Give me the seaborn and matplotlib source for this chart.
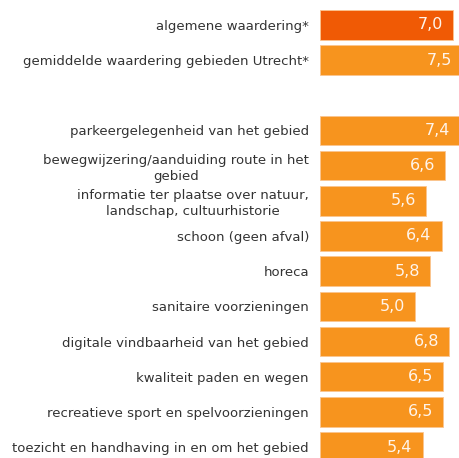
import matplotlib
matplotlib.use("Agg")
import matplotlib.pyplot as plt
import seaborn as sns
import pandas as pd
import numpy as np

categories = [
    "algemene waardering*",
    "gemiddelde waardering gebieden Utrecht*",
    " ",
    "parkeergelegenheid van het gebied",
    "bewegwijzering/aanduiding route in het\ngebied",
    "informatie ter plaatse over natuur,\nlandschap, cultuurhistorie",
    "schoon (geen afval)",
    "horeca",
    "sanitaire voorzieningen",
    "digitale vindbaarheid van het gebied",
    "kwaliteit paden en wegen",
    "recreatieve sport en spelvoorzieningen",
    "toezicht en handhaving in en om het gebied",
]
values = [7.0, 7.5, np.nan, 7.4, 6.6, 5.6, 6.4, 5.8, 5.0, 6.8, 6.5, 6.5, 5.4]
groups = ["algemeen", "overig", "overig", "overig", "overig", "overig", "overig",
          "overig", "overig", "overig", "overig", "overig", "overig"]

palette = {"algemeen": "#F05A05", "overig": "#F7941E"}

df = pd.DataFrame({"cat": categories, "val": values, "grp": groups})

sns.set_theme(style="white")
plt.rcParams["font.family"] = ["DejaVu Sans"]

W, H = 460, 458
fig = plt.figure(figsize=(W / 100, H / 100), dpi=100)
left_px = 320
ax = fig.add_axes([left_px / W, 0, (W - left_px) / W, 1])

sns.barplot(data=df, y="cat", x="val", hue="grp", order=categories,
            palette=palette, saturation=1, dodge=False, width=0.84, legend=False,
            edgecolor="#FBC590", linewidth=0.6, ax=ax)

px_per_unit = 19.0
ax.set_xlim(0, (W - left_px) / px_per_unit)
row = 35.17
ax.set_ylim(12 + 11 / row, -25 / row)

for i, v in enumerate(values):
    if np.isnan(v):
        continue
    ax.text(v - 0.53, i, f"{v:.1f}".replace(".", ","), ha="right", va="center",
            color="#FFF4EA", fontsize=11.5)

ax.set_xlabel("")
ax.set_ylabel("")
ax.set_xticks([])
ax.tick_params(axis="y", length=0, pad=8, labelsize=9.5, labelcolor="#333333")
for t in ax.get_yticklabels():
    t.set_multialignment("center")
    t.set_linespacing(1.3)
for s in ax.spines.values():
    s.set_visible(False)

fig.savefig("out.png", dpi=100)
